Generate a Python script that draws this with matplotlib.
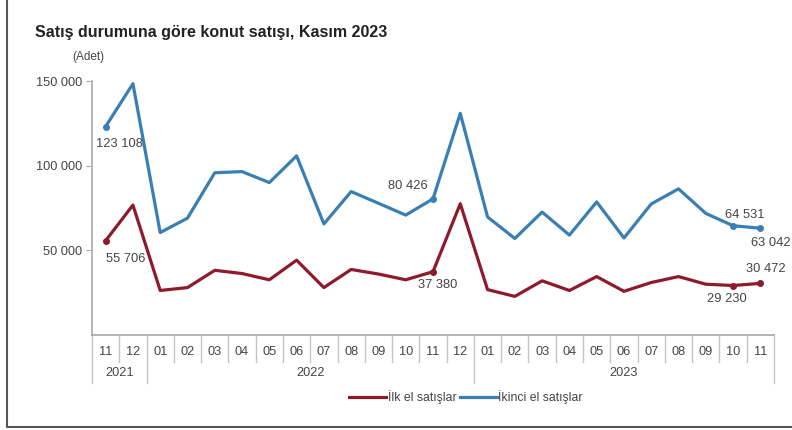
import matplotlib.pyplot as plt
from matplotlib.lines import Line2D

plt.rcParams['font.family'] = ['Liberation Sans', 'DejaVu Sans']

months = ['11', '12', '01', '02', '03', '04', '05', '06', '07', '08', '09', '10', '11', '12',
          '01', '02', '03', '04', '05', '06', '07', '08', '09', '10', '11']
years = ['2021', '2022', '2023']
year_spans = [(0, 1), (2, 13), (14, 24)]

ilk_el = [55706, 76727, 26300, 28000, 38200, 36300, 32600, 44200, 28000, 38700, 36000, 32600,
          37380, 77500, 26800, 22800, 32000, 26300, 34500, 25800, 31000, 34500, 30000, 29230, 30472]
ikinci_el = [123108, 148400, 60500, 69000, 95800, 96500, 90000, 105800, 65600, 84700, 77800, 70800,
             80426, 130900, 69700, 57000, 72600, 59000, 78600, 57300, 77400, 86300, 71800, 64531, 63042]

# labelled points: (index, x shift px, y shift px)
ilk_labels = [(0, 20, -18), (12, 5, -13), (23, -6, -13), (24, 5, 14)]
ikinci_labels = [(0, 14, -17), (12, -25, 13), (23, 12, 11), (24, 10, -15)]

red = '#8e1a2c'
blue = '#3a7fb3'
grey = '#444444'

fig = plt.figure(figsize=(7.92, 4.30), dpi=100)
W, H = 792, 430
ax = fig.add_axes([92 / W, 1 - 335 / H, (774 - 92) / W, (335 - 81) / H])

x = list(range(len(months)))
ax.plot(x, ilk_el, color=red, lw=2.3)
ax.plot(x, ikinci_el, color=blue, lw=2.3)

px = 72 / 100
for series, color, labels in [(ilk_el, red, ilk_labels), (ikinci_el, blue, ikinci_labels)]:
    for i, dx, dy in labels:
        ax.plot(i, series[i], 'o', color=color, ms=4)
        txt = f'{series[i]:,}'.replace(',', ' ')
        ax.annotate(txt, (i, series[i]), xytext=(dx * px, dy * px), textcoords='offset points',
                    ha='center', va='center', fontsize=9.3, color=grey, annotation_clip=False)

ax.set_xlim(-0.5, len(months) - 0.5)
ax.set_ylim(0, 150000)
ax.set_yticks([50000, 100000, 150000])
ax.set_yticklabels(['50 000', '100 000', '150 000'])
ax.tick_params(axis='y', length=4, color='#aaaaaa', labelsize=9.2, labelcolor=grey, pad=3)
ax.set_xticks(x)
ax.set_xticklabels(months)
ax.tick_params(axis='x', length=0, labelsize=9.2, labelcolor=grey, pad=8)

for s in ['top', 'right']:
    ax.spines[s].set_visible(False)
ax.spines['left'].set_color('#b5b5b5')
ax.spines['bottom'].set_color('#a8a8a8')
ax.spines['left'].set_linewidth(1.4)
ax.spines['bottom'].set_linewidth(1.2)

# category separators below the axis
tr = ax.get_xaxis_transform()
month_depth = -(362 - 335) / 254
year_depth = -(383 - 335) / 254
year_edges = [-0.5] + [b + 0.5 for _, b in year_spans]
for k in range(len(months) + 1):
    edge = k - 0.5
    depth = year_depth if edge in year_edges else month_depth
    ax.plot([edge, edge], [0, depth], transform=tr, color='#c4c4c4', lw=1.0, clip_on=False)

for label, (a, b) in zip(years, year_spans):
    ax.text((a + b) / 2, -(373 - 335) / 254, label, transform=tr, ha='center', va='center',
            fontsize=9.2, color=grey)

fig.text(35 / W, 1 - 33 / H, 'Satış durumuna göre konut satışı, Kasım 2023', fontsize=11.5,
         fontweight='bold', color='#222222', va='center')
fig.text(72 / W, 1 - 57 / H, '(Adet)', fontsize=8.5, color=grey, va='center')

handles = [Line2D([], [], color=red, lw=2.3), Line2D([], [], color=blue, lw=2.3)]
fig.legend(handles, ['İlk el satışlar', 'İkinci el satışlar'], loc='center',
           bbox_to_anchor=(466 / W, 1 - 397 / H), ncol=2, frameon=False, fontsize=8.8,
           handlelength=3.0, handletextpad=0.15, columnspacing=0.3, labelcolor=grey)

# frame on the left and bottom edges
fig.add_artist(Line2D([7 / W, 7 / W, 1], [1, 3 / H, 3 / H], transform=fig.transFigure,
                      color='#555555', lw=1.5))

fig.savefig('out.png', dpi=100)
